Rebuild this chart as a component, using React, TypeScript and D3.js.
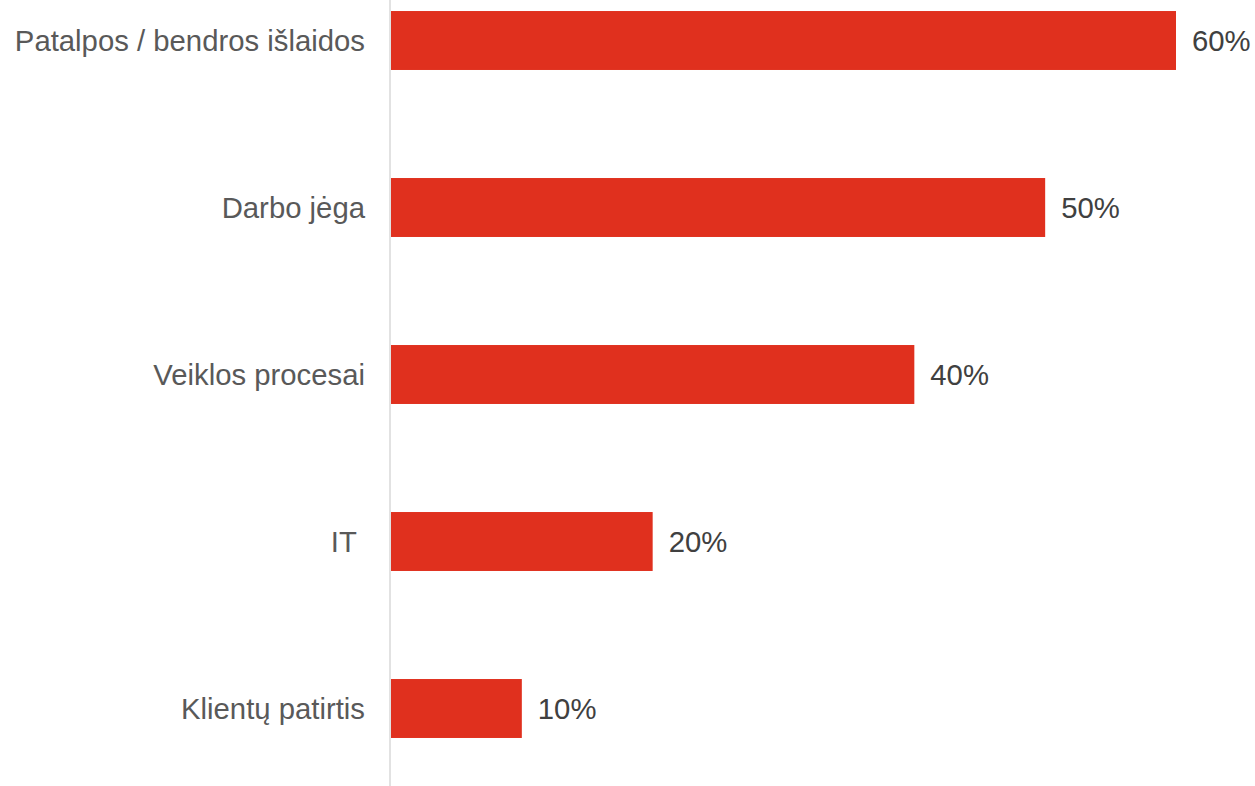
import { useRef, useEffect } from 'react';
import * as d3 from 'd3';

const categories = [
	'Patalpos / bendros išlaidos',
	'Darbo jėga',
	'Veiklos procesai',
	'IT\u00a0',
	'Klientų patirtis',
];
const values = [60, 50, 40, 20, 10];

const WIDTH = 1255;
const HEIGHT = 786;
const BAR_COLOR = '#e0301e';
const FONT = '"Liberation Sans", Arial, sans-serif';
const FONT_SIZE = 29.3;

export default function App() {
	const svgRef = useRef<SVGSVGElement>(null);

	useEffect(() => {
		document.body.style.margin = '0';
		const svg = d3.select(svgRef.current);
		svg.selectAll('*').remove();

		const axisX = 390;
		const x = d3.scaleLinear().domain([0, 60]).range([axisX + 1, 1176]);
		const y = d3
			.scaleBand<string>()
			.domain(categories)
			.range([-43, 792])
			.paddingInner(0.647)
			.paddingOuter(0.3235);

		const g = svg.append('g');

		// Bars
		g.selectAll('rect.bar')
			.data(categories)
			.join('rect')
			.attr('class', 'bar')
			.attr('x', x(0))
			.attr('y', (d) => y(d)!)
			.attr('width', (_, i) => x(values[i]) - x(0))
			.attr('height', y.bandwidth())
			.attr('fill', BAR_COLOR);

		// Vertical axis line
		g.append('line')
			.attr('x1', axisX)
			.attr('x2', axisX)
			.attr('y1', 0)
			.attr('y2', HEIGHT)
			.attr('stroke', '#d9d9d9')
			.attr('stroke-width', 1.5);

		// Category labels
		g.selectAll('text.cat')
			.data(categories)
			.join('text')
			.attr('class', 'cat')
			.attr('x', 365)
			.attr('y', (d) => y(d)! + y.bandwidth() / 2 + 10.5)
			.attr('text-anchor', 'end')
			.attr('font-family', FONT)
			.attr('font-size', FONT_SIZE)
			.attr('fill', '#595959')
			.style('white-space', 'pre')
			.text((d) => d);

		// Value labels
		g.selectAll('text.val')
			.data(categories)
			.join('text')
			.attr('class', 'val')
			.attr('x', (_, i) => x(values[i]) + 16)
			.attr('y', (d) => y(d)! + y.bandwidth() / 2 + 10.5)
			.attr('font-family', FONT)
			.attr('font-size', FONT_SIZE)
			.attr('fill', '#404040')
			.text((_, i) => `${values[i]}%`);
	}, []);

	return (
		<svg
			ref={svgRef}
			width={WIDTH}
			height={HEIGHT}
			style={{ display: 'block', position: 'absolute', left: 0, top: 0, background: '#fff' }}
		/>
	);
}
